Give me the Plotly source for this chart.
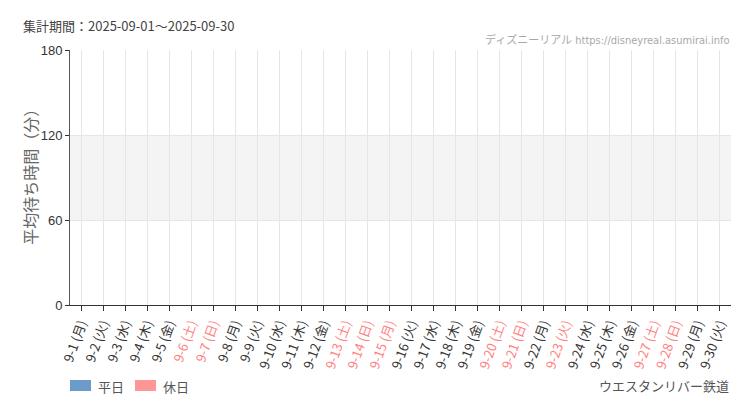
import plotly.graph_objects as go

# ---- data ----
dates = ["9-1", "9-2", "9-3", "9-4", "9-5", "9-6", "9-7", "9-8", "9-9", "9-10",
         "9-11", "9-12", "9-13", "9-14", "9-15", "9-16", "9-17", "9-18", "9-19", "9-20",
         "9-21", "9-22", "9-23", "9-24", "9-25", "9-26", "9-27", "9-28", "9-29", "9-30"]
weekdays = ["月", "火", "水", "木", "金", "土", "日", "月", "火", "水",
            "木", "金", "土", "日", "月", "火", "水", "木", "金", "土",
            "日", "月", "火", "水", "木", "金", "土", "日", "月", "火"]
is_holiday = [0, 0, 0, 0, 0, 1, 1, 0, 0, 0,
              0, 0, 1, 1, 1, 0, 0, 0, 0, 1,
              1, 0, 1, 0, 0, 0, 1, 1, 0, 0]
# average wait (minutes) - no data recorded in this period
wait_weekday = [None, None, None, None, None, None, None, None, None, None,
                None, None, None, None, None, None, None, None, None, None,
                None, None, None, None, None, None, None, None, None, None]
wait_holiday = [None, None, None, None, None, None, None, None, None, None,
                None, None, None, None, None, None, None, None, None, None,
                None, None, None, None, None, None, None, None, None, None]
y_ticks = [0, 60, 120, 180]
period_text = "集計期間：2025-09-01～2025-09-30"
attraction = "ウエスタンリバー鉄道"
series_names = ["平日", "休日"]

WEEKDAY_COLOR = "#6b9bc8"
HOLIDAY_COLOR = "#ff9696"
HOLIDAY_TEXT = "#ff8080"
FONT = "Noto Sans CJK JP"

ticktext = []
for d, w, h in zip(dates, weekdays, is_holiday):
    lab = f"{d} ({w})"
    if h:
        lab = f"<span style='color:{HOLIDAY_TEXT}'>{lab}</span>"
    ticktext.append(lab)

fig = go.Figure()
fig.add_trace(go.Bar(x=dates, y=wait_weekday, name=series_names[0],
                     marker_color=WEEKDAY_COLOR, showlegend=False))
fig.add_trace(go.Bar(x=dates, y=wait_holiday, name=series_names[1],
                     marker_color=HOLIDAY_COLOR, showlegend=False))

# shaded band 60-120
fig.add_shape(type="rect", xref="paper", yref="y", x0=0, x1=1, y0=60, y1=120,
              fillcolor="#f4f4f4", line_width=0, layer="below")

fig.update_layout(
    width=750, height=410,
    margin=dict(l=62, r=27, t=42, b=113),
    paper_bgcolor="white", plot_bgcolor="white",
    font=dict(family=FONT, color="#333", size=12),
    barmode="overlay",
    xaxis=dict(type="category", categoryorder="array", categoryarray=dates,
               tickmode="array", tickvals=dates, ticktext=ticktext,
               tickangle=-70, tickfont=dict(size=13, color="#333"),
               showgrid=True, gridcolor="#e6e6e6", gridwidth=1,
               ticks="outside", ticklen=5, tickcolor="#333",
               showline=True, linecolor="#333", linewidth=1,
               range=[-0.5, len(dates) - 0.5], fixedrange=True),
    yaxis=dict(range=[0, 180], tickmode="array", tickvals=y_ticks,
               tickfont=dict(size=13, color="#333", family="Liberation Sans, Arial"),
               showgrid=True, gridcolor="#e6e6e6", gridwidth=1,
               ticks="outside", ticklen=4, tickcolor="#333",
               showline=True, linecolor="#555", linewidth=1,
               zeroline=False, fixedrange=True),
)

annotations = [
    dict(text=period_text, xref="paper", yref="paper", x=-0.074, y=1.095,
         xanchor="left", yanchor="middle", showarrow=False,
         font=dict(size=13, color="#444", family=FONT)),
    dict(text="ディズニーリアル https://disneyreal.asumirai.info", xref="paper", yref="paper",
         x=1.0, y=1.04, xanchor="right", yanchor="middle", showarrow=False,
         font=dict(size=11, color="#a8a8a8", family="DejaVu Sans Condensed, " + FONT)),
    dict(text="平均待ち時間（分）", xref="paper", yref="paper", x=-0.06, y=0.52,
         xanchor="center", yanchor="middle", textangle=-90, showarrow=False,
         font=dict(size=16, color="#666", family=FONT)),
    dict(text=attraction, xref="paper", yref="paper", x=1.0, y=-0.315,
         xanchor="right", yanchor="middle", showarrow=False,
         font=dict(size=13, color="#555", family=FONT)),
]
# custom legend (swatch + label)
leg = [(series_names[0], WEEKDAY_COLOR, 70), (series_names[1], HOLIDAY_COLOR, 135)]
for name, col, px in leg:
    x0 = (px - 70) / 661
    x1 = (px + 21 - 70) / 661
    fig.add_shape(type="rect", xref="paper", yref="paper", x0=x0, x1=x1,
                  y0=(305 - 391) / 255, y1=(305 - 380) / 255,
                  fillcolor=col, line_width=0)
    annotations.append(dict(text=name, xref="paper", yref="paper",
                            x=(px + 26 - 70) / 661, y=(305 - 386) / 255,
                            xanchor="left", yanchor="middle", showarrow=False,
                            font=dict(size=13, color="#555", family=FONT)))
fig.update_layout(annotations=annotations)

fig.write_html("out.html")
